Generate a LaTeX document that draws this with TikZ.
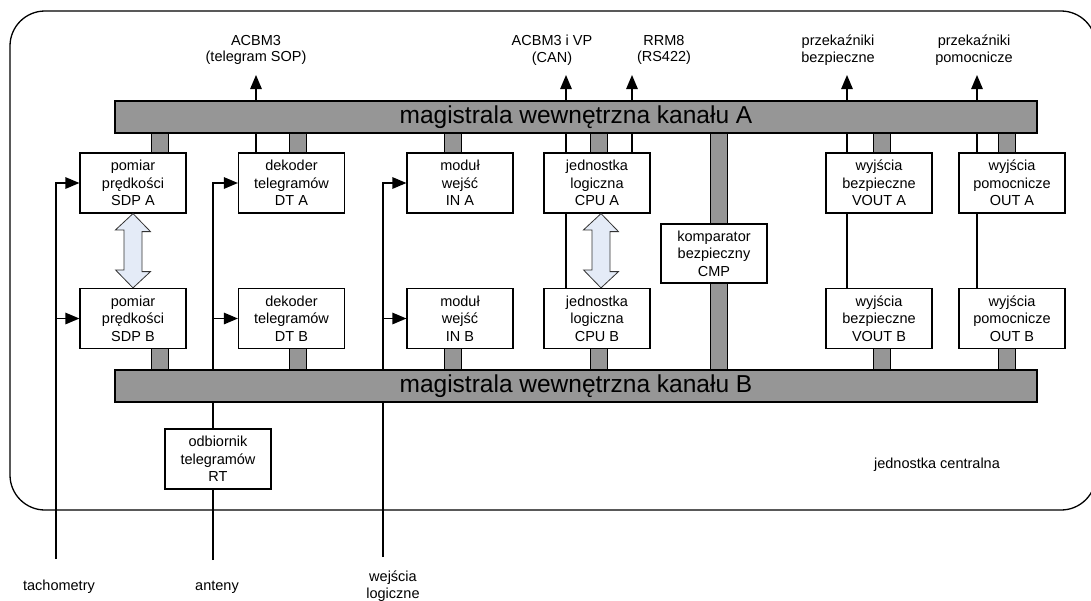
\documentclass[tikz,border=0pt]{standalone}
\usepackage{fontspec}
\setmainfont{Liberation Sans}
\usetikzlibrary{arrows.meta,calc}
\pgfdeclarelayer{bg}
\pgfsetlayers{bg,main}
\definecolor{busgray}{RGB}{150,150,150}
\definecolor{arrfill}{RGB}{228,235,247}
\begin{document}
\begin{tikzpicture}[x=1pt,y=-1pt,
  box/.style={draw, line width=1.2pt, fill=white, minimum width=106pt, minimum height=60pt, inner sep=0pt, align=center, font=\fontsize{14.5}{17.5}\selectfont},
  bus/.style={draw, line width=1.5pt, fill=busgray, minimum width=922pt, minimum height=32pt, inner sep=0pt, font=\fontsize{24.5}{28}\selectfont},
  stub/.style={line width=1.2pt, double=busgray, double distance=16pt},
  wire/.style={line width=1.3pt},
  arr/.style={wire, -{Triangle[length=14pt,width=11.5pt]}},
  lbl/.style={align=center, font=\fontsize{14.5}{16.5}\selectfont, inner sep=0pt},
  dbl/.style={draw=black!80, line width=0.8pt, fill=arrfill, line join=miter}]
\useasboundingbox (0,0) rectangle (1091,600);

% buses
\node[bus] (busA) at (576,117) {magistrala wewnętrzna kanału A};
\node[bus] (busB) at (576,386) {magistrala wewnętrzna kanału B};

% modules
\node[box] (sdpA) at (133,183) {pomiar\\prędkości\\SDP A};
\node[box] (sdpB) at (133,318.5) {pomiar\\prędkości\\SDP B};
\node[box] (dtA) at (291.5,183) {dekoder\\telegramów\\DT A};
\node[box] (dtB) at (291.5,318.5) {dekoder\\telegramów\\DT B};
\node[box] (inA) at (460,183) {moduł\\wejść\\IN A};
\node[box] (inB) at (460,318.5) {moduł\\wejść\\IN B};
\node[box] (cpuA) at (597,183) {jednostka\\logiczna\\CPU A};
\node[box] (cpuB) at (597,318.5) {jednostka\\logiczna\\CPU B};
\node[box, minimum height=59pt] (cmp) at (714,253.5) {komparator\\bezpieczny\\CMP};
\node[box] (voutA) at (879,183) {wyjścia\\bezpieczne\\VOUT A};
\node[box] (voutB) at (879,318.5) {wyjścia\\bezpieczne\\VOUT B};
\node[box] (outA) at (1012,183) {wyjścia\\pomocnicze\\OUT A};
\node[box] (outB) at (1012,318.5) {wyjścia\\pomocnicze\\OUT B};
\node[box] (rt) at (218,459) {odbiornik\\telegramów\\RT};

% labels
\node[lbl] (lAC) at (256,50) {ACBM3\\(telegram SOP)};
\node[lbl] (lCAN) at (552,50) {ACBM3 i VP\\(CAN)};
\node[lbl] (lRRM) at (664,50) {RRM8\\(RS422)};
\node[lbl] (lPB) at (838,50) {przekaźniki\\bezpieczne};
\node[lbl] (lPP) at (974,50) {przekaźniki\\pomocnicze};
\node[lbl] (jc) at (937,465) {jednostka centralna};
\node[lbl] (ltach) at (59,587) {tachometry};
\node[lbl] (lant) at (217,587) {anteny};
\node[lbl] (lwej) at (393,586) {wejścia\\logiczne};

% coordinates of free ends
\coordinate (tAC) at (256,75);
\coordinate (tCAN) at (566,75);
\coordinate (tRRM) at (632,75);
\coordinate (tPB) at (847,75);
\coordinate (tPP) at (977,75);
\coordinate (eTach) at (56,559);
\coordinate (eAnt) at (213,560);
\coordinate (eWej) at (383,557);

% double block arrows
\draw[dbl] (sdpA.south) -- ++(17.5,18) -- ++(-8.5,0) -- ++(0,40) -- ++(8.5,0) -- (sdpB.north)
  -- ++(-17.5,-18) -- ++(8.5,0) -- ++(0,-40) -- ++(-8.5,0) -- cycle;
\draw[dbl] ([xshift=4pt]cpuA.south) -- ++(17.5,18) -- ++(-8.5,0) -- ++(0,40) -- ++(8.5,0) -- ([xshift=4pt]cpuB.north)
  -- ++(-17.5,-18) -- ++(8.5,0) -- ++(0,-40) -- ++(-8.5,0) -- cycle;

\begin{pgfonlayer}{bg}
% outer frame
\draw[line width=1.3pt, rounded corners=35pt] (10,11) rectangle (1096,510);
% bus stubs
\foreach \m/\dx in {sdp/27, dt/6.5, in/-7, cpu/2, vout/3, out/-5} {
  \draw[stub] ([xshift=\dx pt]\m A.north) -- ([xshift=\dx pt]\m A.north |- busA.south);
  \draw[stub] ([xshift=\dx pt]\m B.south) -- ([xshift=\dx pt]\m B.south |- busB.north);
}
\draw[stub] ([xshift=5pt]cmp.north |- busA.south) -- ([xshift=5pt]cmp.south |- busB.north);
% output wires
\draw[arr] (dtA.north -| tAC) -- (tAC);
\draw[arr] (cpuB.north -| tCAN) -- (tCAN);
\draw[arr] (cpuA.north -| tRRM) -- (tRRM);
\draw[arr] (voutB.north -| tPB) -- (tPB);
\draw[arr] (outB.north -| tPP) -- (tPP);
% input wires
\draw[arr] (eTach) |- (sdpA.west);
\draw[arr] (eTach |- sdpB.west) -- (sdpB.west);
\draw[arr] (eAnt) |- (dtA.west);
\draw[arr] (eAnt |- dtB.west) -- (dtB.west);
\draw[arr] (eWej) |- (inA.west);
\draw[arr] (eWej |- inB.west) -- (inB.west);
\end{pgfonlayer}
\end{tikzpicture}
\end{document}
